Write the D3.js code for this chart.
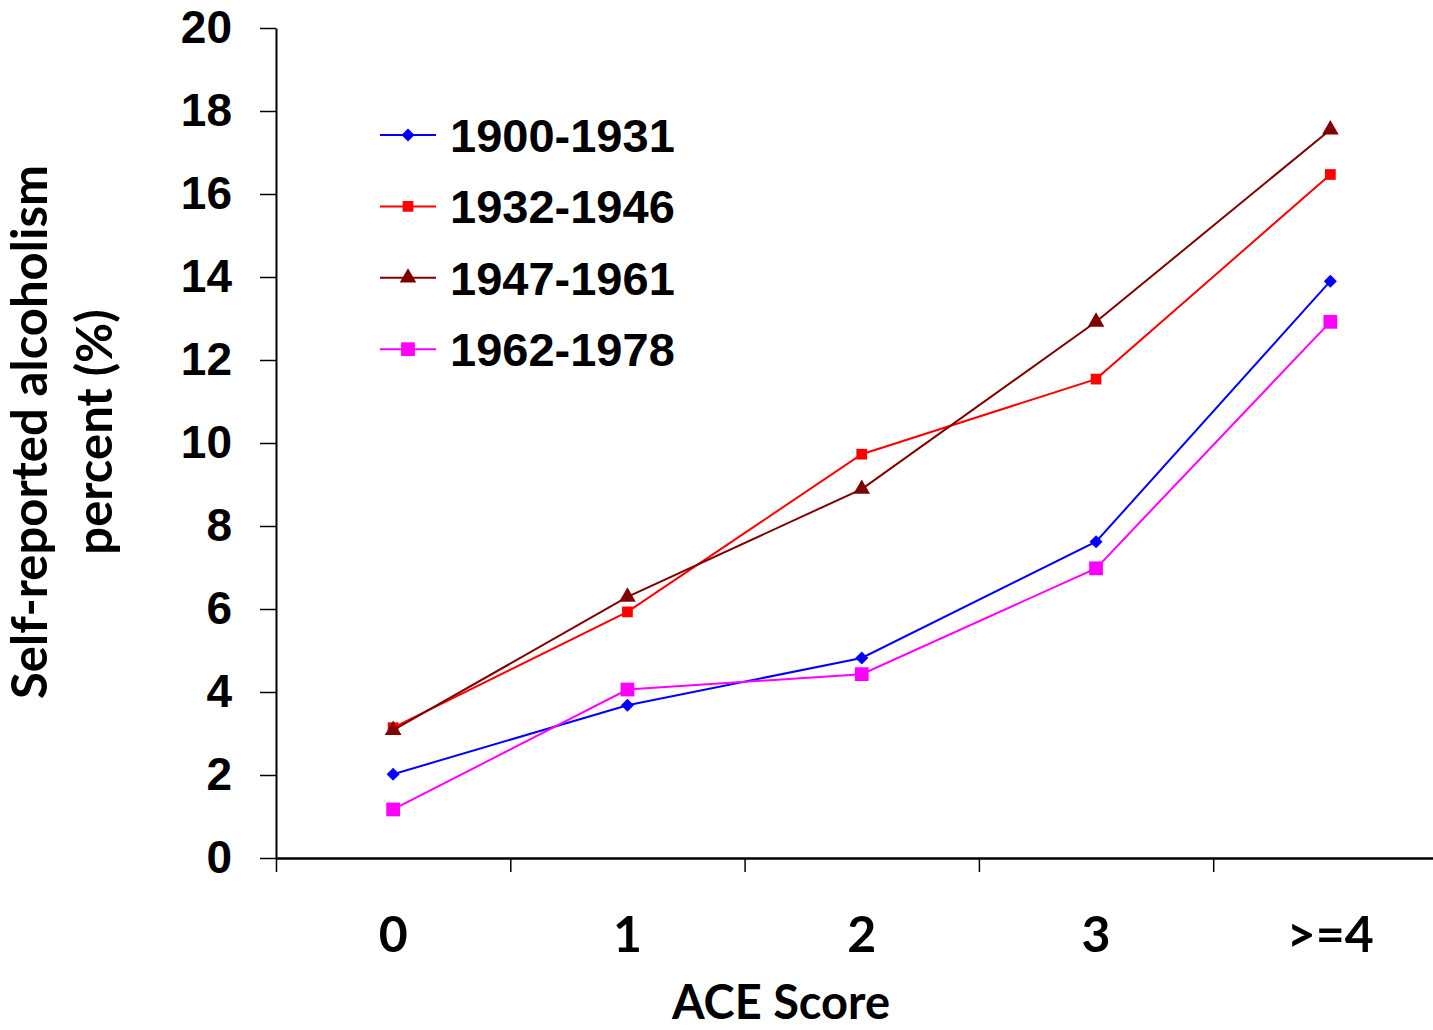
<!DOCTYPE html>
<html>
<head>
<meta charset="utf-8">
<script src="https://cdn.jsdelivr.net/npm/d3@7"></script>
<style>
  html, body { margin: 0; padding: 0; background: #fff; }
  svg { display: block; }
</style>
</head>
<body>
<div id="chart"></div>
<script>
// ACE score categories on the x axis
const categories = ["0", "1", "2", "3", ">=4"];

// birth cohorts (legend labels)
const cohorts = ["1900-1931", "1932-1946", "1947-1961", "1962-1978"];

// self-reported alcoholism percent, one list per cohort
const s1900 = [2.02, 3.68, 4.82, 7.62, 13.9];
const s1932 = [3.14, 5.93, 9.73, 11.54, 16.47];
const s1947 = [3.08, 6.29, 8.89, 12.92, 17.55];
const s1962 = [1.17, 4.06, 4.43, 6.98, 12.92];

const yTicks = [0, 2, 4, 6, 8, 10, 12, 14, 16, 18, 20];

const W = 1433, H = 1030;
const plotLeft = 276, plotTop = 28, plotBottom = 858;
const bandW = 234.3;

// rot: the blue diamond is just a square turned 45 degrees
const series = [
  { name: cohorts[0], values: s1900, color: "#0000ff", shape: d3.symbolSquare, size: 85, rot: 45 },
  { name: cohorts[1], values: s1932, color: "#ff0000", shape: d3.symbolSquare, size: 115, rot: 0 },
  { name: cohorts[2], values: s1947, color: "#800000", shape: d3.symbolTriangle, size: 120, rot: 0 },
  { name: cohorts[3], values: s1962, color: "#ff00ff", shape: d3.symbolSquare, size: 190, rot: 0 }
];

const svg = d3.select("#chart").append("svg")
  .attr("width", W)
  .attr("height", H);

const x = d3.scaleBand()
  .domain(categories)
  .range([plotLeft, plotLeft + bandW * categories.length]);

// boundaries of the bands, for the tick marks
const xEdge = d3.scaleLinear()
  .domain([0, categories.length])
  .range([plotLeft, plotLeft + bandW * categories.length]);

const y = d3.scaleLinear()
  .domain([0, 20])
  .range([plotBottom, plotTop]);

// y axis
const yAxis = svg.append("g")
  .attr("transform", `translate(${plotLeft},0)`)
  .call(d3.axisLeft(y).tickValues(yTicks).tickSize(16).tickPadding(28).tickSizeOuter(0));
yAxis.select(".domain").attr("stroke", "#000").attr("stroke-width", 2);
yAxis.selectAll(".tick line").attr("stroke", "#000").attr("stroke-width", 1.5);
yAxis.selectAll(".tick text")
  .attr("fill", "#000")
  .style("font-family", "'Liberation Sans', Arial, sans-serif")
  .style("font-weight", "bold")
  .style("font-size", "46px");

// x axis (ticks sit between categories)
const xAxis = svg.append("g")
  .attr("transform", `translate(0,${plotBottom})`)
  .call(d3.axisBottom(xEdge).tickValues(d3.range(0, categories.length)).tickSize(14).tickFormat("").tickSizeOuter(0));
xAxis.select(".domain").attr("stroke", "#000").attr("stroke-width", 2.5);
xAxis.selectAll(".tick line").attr("stroke", "#000").attr("stroke-width", 1.5);

svg.append("g")
  .selectAll("text")
  .data(categories)
  .join("text")
  .attr("x", d => x(d) + x.bandwidth() / 2)
  .attr("y", 952)
  .attr("text-anchor", "middle")
  .style("font-family", "Lato, 'Open Sans', sans-serif")
  .style("font-weight", "bold")
  .style("font-size", "50px")
  .text(d => d);

// axis titles
svg.append("text")
  .attr("x", 781)
  .attr("y", 1019)
  .attr("text-anchor", "middle")
  .style("font-family", "Lato, 'Open Sans', sans-serif")
  .style("font-weight", "bold")
  .style("font-size", "47px")
  .text("ACE Score");

const yTitle = svg.append("text")
  .attr("transform", "translate(0,432) rotate(-90)")
  .attr("text-anchor", "middle")
  .style("font-family", "Lato, 'Open Sans', sans-serif")
  .style("font-weight", "bold")
  .style("font-size", "49px");
yTitle.append("tspan").attr("x", 0).attr("y", 47).text("Self-reported alcoholism");
yTitle.append("tspan").attr("x", 0).attr("y", 112).text("percent (%)");

// lines and markers
const line = d3.line()
  .x((d, i) => x(categories[i]) + x.bandwidth() / 2)
  .y(d => y(d));

const g = svg.append("g");
series.forEach(s => {
  g.append("path")
    .datum(s.values)
    .attr("fill", "none")
    .attr("stroke", s.color)
    .attr("stroke-width", 2)
    .attr("d", line);
  g.append("g")
    .selectAll("path")
    .data(s.values)
    .join("path")
    .attr("transform", (d, i) => `translate(${x(categories[i]) + x.bandwidth() / 2},${y(d)}) rotate(${s.rot})`)
    .attr("d", d3.symbol(s.shape, s.size))
    .attr("fill", s.color);
});

// legend
const legend = svg.append("g").attr("transform", "translate(380,135)");
const rows = legend.selectAll("g")
  .data(series)
  .join("g")
  .attr("transform", (d, i) => `translate(0,${i * 71.4})`);
rows.append("line")
  .attr("x1", 0).attr("x2", 56)
  .attr("stroke", d => d.color)
  .attr("stroke-width", 2);
rows.append("path")
  .attr("transform", d => `translate(28,0) rotate(${d.rot})`)
  .attr("d", d => d3.symbol(d.shape, d.size)())
  .attr("fill", d => d.color);
rows.append("text")
  .attr("x", 70)
  .attr("y", 17)
  .style("font-family", "'Liberation Sans', Arial, sans-serif")
  .style("font-weight", "bold")
  .style("font-size", "47px")
  .text(d => d.name);
</script>
</body>
</html>
